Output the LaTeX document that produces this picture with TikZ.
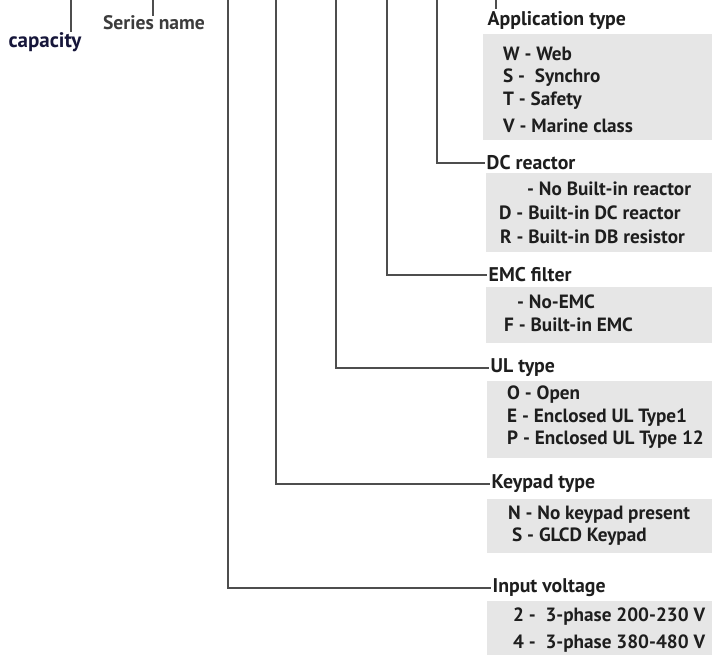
\documentclass[tikz,border=0pt]{standalone}
\usepackage{fontspec}
\setmainfont{PT Sans}
\usepackage{tikz}
\usetikzlibrary{positioning}
\definecolor{boxGray}{RGB}{230,230,230}
\definecolor{lineGray}{RGB}{78,78,78}
\definecolor{inkDark}{RGB}{30,30,30}
\definecolor{inkNavy}{RGB}{22,22,58}
\definecolor{inkSoft}{RGB}{60,60,60}

\begin{document}
\begin{tikzpicture}[x=1pt, y=-1pt,
    lead/.style={draw=lineGray, line width=1.4pt},
    head/.style={anchor=west, inner sep=1.5pt, text=inkDark, font=\bfseries\fontsize{19.8}{22}\selectfont},
    item/.style={anchor=west, inner sep=0pt, text=inkDark, font=\bfseries\fontsize{19.2}{22}\selectfont},
    codebox/.style={fill=boxGray, anchor=north west, inner sep=0pt}
  ]
  \useasboundingbox (0,0) rectangle (712,655);

  % top ends of the leads
  \coordinate (capTop) at (71,0);
  \coordinate (serTop) at (153,0);
  \coordinate (appTop) at (496,0);
  \coordinate (dcTop)  at (437,0);
  \coordinate (emcTop) at (387,0);
  \coordinate (ulTop)  at (336,0);
  \coordinate (kpTop)  at (276,0);
  \coordinate (ivTop)  at (228,0);

  % left labels
  \node[text=inkNavy, inner sep=0pt, font=\bfseries\fontsize{21}{22}\selectfont] (cap) at (45,42) {capacity};
  \node[text=inkSoft, inner sep=0pt, font=\bfseries\fontsize{19.6}{22}\selectfont] (ser) at (154,23) {Series name};
  \draw[lead] (capTop) -- (capTop |- cap.north);
  \draw[lead] (serTop) -- (serTop |- ser.north);

  % gray boxes
  \node[codebox, minimum width=229pt, minimum height=106pt] (appBox) at (483,34) {};
  \node[codebox, minimum width=226pt, minimum height=79pt]  (dcBox)  at (486,173) {};
  \node[codebox, minimum width=226pt, minimum height=56pt]  (emcBox) at (486,287) {};
  \node[codebox, minimum width=225pt, minimum height=77pt]  (ulBox)  at (487,381) {};
  \node[codebox, minimum width=225pt, minimum height=54pt]  (kpBox)  at (487,499) {};
  \node[codebox, minimum width=225pt, minimum height=54pt]  (ivBox)  at (487,601) {};

  % headings
  \node[head] (appHead) at (486,20)  {Application type};
  \node[head] (dcHead)  at (485,163) {DC reactor};
  \node[head] (emcHead) at (487,275) {EMC filter};
  \node[head] (ulHead)  at (489,368) {UL type};
  \node[head] (kpHead)  at (490,484) {Keypad type};
  \node[head] (ivHead)  at (491,588) {Input voltage};

  % leads
  \draw[lead] (appTop) -- (appTop |- appHead.north);
  \draw[lead] (dcTop)  |- (dcHead.west);
  \draw[lead] (emcTop) |- (emcHead.west);
  \draw[lead] (ulTop)  |- (ulHead.west);
  \draw[lead] (kpTop)  |- (kpHead.west);
  \draw[lead] (ivTop)  |- (ivHead.west);

  % codes
  \node[item] (appW) at (503,54)  {W - Web};
  \node[item] (appS) at (503,78)  {S -\ \ Synchro};
  \node[item] (appT) at (503,101) {T - Safety};
  \node[item] (appV) at (503,126) {V - Marine class};

  \node[item] (dcN) at (527,189) {- No Built-in reactor};
  \node[item] (dcD) at (499,213) {D - Built-in DC reactor};
  \node[item] (dcR) at (500,237) {R - Built-in DB resistor};

  \node[item] (emcN) at (517,302) {- No-EMC};
  \node[item] (emcF) at (504,325) {F - Built-in EMC};

  \node[item] (ulO) at (507,395) {O - Open};
  \node[item] (ulE) at (507,418) {E - Enclosed UL Type1};
  \node[item] (ulP) at (507,440) {P - Enclosed UL Type 12};

  \node[item] (kpN) at (508,515) {N - No keypad present};
  \node[item] (kpS) at (512,537) {S - GLCD Keypad};

  \node[item] (iv2) at (513,617) {2 -\ \ 3-phase 200-230 V};
  \node[item] (iv4) at (513,644) {4 -\ \ 3-phase 380-480 V};
\end{tikzpicture}
\end{document}
